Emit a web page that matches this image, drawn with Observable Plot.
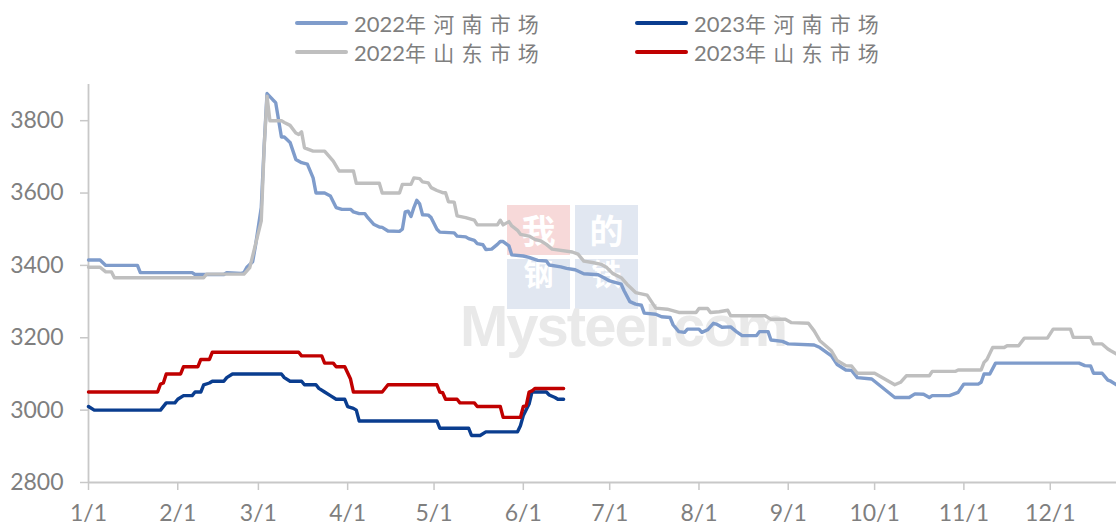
<!DOCTYPE html>
<html>
<head>
<meta charset="utf-8">
<script src="https://cdn.jsdelivr.net/npm/d3@7"></script>
<script src="https://cdn.jsdelivr.net/npm/@observablehq/plot@0.6"></script>
<style>
  html, body { margin: 0; padding: 0; background: #fff; }
  #wrap { position: relative; width: 1116px; height: 527px; overflow: hidden; font-family: Lato, "Noto Sans CJK SC", sans-serif; }
  #legend { position: relative; height: 70px; }
  .item { position: absolute; display: flex; align-items: center; height: 28px; font-size: 22px; color: #7f7f7f; white-space: nowrap; }
  .sw { width: 53px; height: 4px; border-radius: 2px; margin-right: 6px; }
  .cjk { letter-spacing: 7.2px; font-family: "Noto Sans CJK SC", sans-serif; font-size: 21px; }
  #chart { position: relative; z-index: 1; }
  #wm { position: absolute; left: 0; top: 0; z-index: 0; pointer-events: none; }
  .box { position: absolute; width: 63px; height: 50px; color: #fff; font-family: "Noto Sans CJK SC", sans-serif; font-size: 34px; font-weight: 700; line-height: 50px; text-align: center; }
  .box.low { font-size: 30px; line-height: 26px; }
  .mys { position: absolute; left: 460px; top: 301px; font-family: "Liberation Sans", sans-serif; font-weight: 700; font-size: 58px; line-height: 50px; color: #e9e9e9; letter-spacing: -2px; }
</style>
</head>
<body>
<div id="wrap">
  <div id="wm">
    <div class="box" style="left:507px;top:205px;background:#f7d9d9;">我</div>
    <div class="box" style="left:575px;top:205px;background:#e1e7f1;">的</div>
    <div class="box low" style="left:507px;top:259px;background:#e1e7f1;">钢</div>
    <div class="box low" style="left:575px;top:259px;background:#e1e7f1;">铁</div>
    <div class="mys">Mysteel.com</div>
  </div>
  <div id="legend"></div>
  <div id="chart"></div>
</div>
<script>
// ---- data ----
const seriesNames = ["2022年河南市场", "2023年河南市场", "2022年山东市场", "2023年山东市场"];
const seriesColors = ["#7f9ccb", "#0a3d8f", "#bfbfbf", "#c00000"];

const henan2022Dates = ["01-01","01-05","01-07","01-18","01-19","02-06","02-07","02-17","02-18","02-23","02-24","02-25","02-27","02-28","03-02","03-03","03-04","03-06","03-07","03-09","03-10","03-12","03-14","03-16","03-18","03-20","03-21","03-24","03-26","03-28","03-30","04-02","04-03","04-05","04-07","04-08","04-10","04-12","04-13","04-15","04-19","04-20","04-21","04-22","04-23","04-24","04-25","04-26","04-27","04-29","04-30","05-02","05-03","05-08","05-09","05-12","05-13","05-15","05-16","05-18","05-19","05-21","05-23","05-24","05-25","05-27","05-28","06-01","06-03","06-06","06-09","06-10","06-14","06-16","06-19","06-22","06-27","06-29","07-01","07-05","07-06","07-08","07-10","07-12","07-13","07-17","07-19","07-22","07-23","07-25","07-27","07-28","08-01","08-02","08-04","08-06","08-07","08-09","08-12","08-14","08-16","08-21","08-22","08-25","08-26","08-30","09-01","09-10","09-12","09-16","09-18","09-21","09-23","09-25","09-30","10-08","10-13","10-15","10-18","10-20","10-21","10-27","10-30","11-01","11-06","11-07","11-08","11-10","11-12","12-11","12-13","12-15","12-16","12-19","12-21","12-22","12-24"];
const henan2022Prices = [3415,3415,3400,3400,3380,3380,3375,3375,3380,3378,3380,3395,3410,3455,3560,3730,3875,3858,3850,3755,3755,3740,3693,3684,3680,3642,3600,3600,3592,3560,3555,3555,3548,3543,3543,3532,3514,3506,3505,3495,3494,3500,3548,3550,3535,3560,3580,3570,3540,3539,3532,3500,3492,3490,3481,3479,3474,3469,3460,3457,3444,3445,3458,3466,3466,3454,3429,3426,3422,3414,3412,3401,3396,3392,3388,3377,3374,3366,3357,3348,3330,3300,3293,3290,3268,3265,3258,3256,3236,3217,3215,3224,3224,3215,3222,3240,3238,3229,3230,3217,3206,3206,3217,3217,3194,3190,3183,3180,3173,3150,3126,3111,3110,3090,3086,3035,3035,3045,3044,3035,3040,3040,3049,3072,3072,3077,3100,3100,3130,3130,3123,3122,3102,3102,3083,3080,3070];

const shandong2022Dates = ["01-01","01-05","01-07","01-09","01-10","02-10","02-11","02-24","02-26","02-28","03-02","03-03","03-04","03-05","03-09","03-10","03-12","03-14","03-15","03-16","03-17","03-20","03-24","03-27","03-29","04-03","04-04","04-12","04-13","04-19","04-20","04-23","04-24","04-26","04-27","04-29","04-30","05-02","05-04","05-05","05-06","05-08","05-09","05-12","05-15","05-16","05-23","05-24","05-25","05-27","05-28","05-30","05-31","06-03","06-05","06-07","06-09","06-11","06-18","06-20","06-22","06-25","06-28","06-30","07-02","07-05","07-07","07-10","07-14","07-17","07-21","07-25","07-31","08-01","08-04","08-05","08-08","08-11","08-12","08-24","08-26","08-31","09-02","09-08","09-10","09-12","09-16","09-18","09-21","09-23","09-25","10-01","10-08","10-10","10-12","10-20","10-21","10-29","10-30","11-07","11-08","11-09","11-11","11-15","11-16","11-20","11-22","11-30","12-02","12-08","12-09","12-15","12-16","12-19","12-21","12-22","12-24"];
const shandong2022Prices = [3395,3395,3382,3382,3366,3366,3376,3376,3394,3458,3523,3725,3868,3800,3800,3795,3787,3766,3762,3769,3725,3716,3716,3688,3661,3661,3627,3627,3600,3600,3624,3624,3642,3640,3631,3628,3615,3607,3601,3601,3576,3575,3537,3532,3525,3512,3512,3525,3512,3521,3509,3497,3486,3481,3472,3468,3458,3445,3437,3431,3412,3408,3403,3394,3378,3366,3348,3325,3318,3282,3279,3270,3270,3281,3281,3270,3272,3276,3261,3261,3251,3251,3242,3240,3219,3192,3164,3137,3123,3122,3102,3102,3070,3077,3095,3095,3107,3107,3111,3111,3132,3140,3173,3173,3178,3178,3199,3199,3224,3224,3201,3201,3183,3183,3169,3164,3155];

const henan2023Dates = ["01-01","01-03","01-26","01-28","01-31","02-01","02-03","02-06","02-07","02-09","02-10","02-12","02-13","02-17","02-18","02-20","03-09","03-10","03-12","03-16","03-17","03-21","03-22","03-24","03-26","03-28","03-31","04-01","04-03","04-04","04-05","05-02","05-03","05-13","05-14","05-17","05-19","05-30","05-31","06-01","06-03","06-04","06-09","06-10","06-12","06-13","06-15"];
const henan2023Prices = [3010,3000,3000,3020,3020,3030,3040,3040,3050,3050,3070,3075,3080,3080,3090,3100,3100,3090,3080,3080,3070,3070,3060,3050,3040,3030,3030,3010,3005,3000,2970,2970,2950,2950,2930,2930,2940,2940,2957,2985,3017,3050,3050,3042,3035,3030,3030];

const shandong2023Dates = ["01-01","01-25","01-26","01-27","01-28","02-02","02-03","02-08","02-09","02-12","02-13","03-15","03-16","03-23","03-24","03-27","03-28","03-31","04-02","04-03","04-13","04-15","05-02","05-03","05-04","05-05","05-09","05-10","05-15","05-16","05-24","05-25","05-31","06-01","06-02","06-03","06-04","06-05","06-15"];
const shandong2023Prices = [3050,3050,3072,3075,3100,3100,3120,3120,3140,3140,3160,3160,3150,3150,3130,3130,3120,3120,3086,3050,3050,3070,3070,3050,3048,3030,3030,3020,3020,3010,3010,2980,2980,3010,3012,3050,3053,3060,3060];

const xTickLabels = ["1/1","2/1","3/1","4/1","5/1","6/1","7/1","8/1","9/1","10/1","11/1","12/1"];
const yTicks = [2800, 3000, 3200, 3400, 3600, 3800];
const yDomain = [2800, 3900];
const xEnd = "12-24";

// ---- build ----
const toDate = s => { const [m, d] = s.split("-").map(Number); return new Date(Date.UTC(2022, m - 1, d)); };
const build = (name, dates, prices) => dates.map((d, i) => ({series: name, date: toDate(d), price: prices[i]}));
const series = [
  build(seriesNames[0], henan2022Dates, henan2022Prices),
  build(seriesNames[1], henan2023Dates, henan2023Prices),
  build(seriesNames[2], shandong2022Dates, shandong2022Prices),
  build(seriesNames[3], shandong2023Dates, shandong2023Prices)
];
const xTicks = xTickLabels.map(l => { const [m, d] = l.split("/").map(Number); return new Date(Date.UTC(2022, m - 1, d)); });
const tickLabel = d => `${d.getUTCMonth() + 1}/${d.getUTCDate()}`;

const axisColor = "#c8c8c8";
const textColor = "#7f7f7f";

const plot = Plot.plot({
  width: 1116,
  height: 457,
  marginLeft: 88,
  marginRight: 0,
  marginTop: 14,
  marginBottom: 45,
  style: {background: "transparent", fontFamily: "Lato, 'Noto Sans CJK SC', sans-serif", fontSize: "23px", color: textColor},
  x: {type: "utc", domain: [toDate("01-01"), toDate(xEnd)]},
  y: {domain: yDomain},
  marks: [
    Plot.axisX({ticks: xTicks, tickFormat: tickLabel, tickSize: 8, tickPadding: 14, stroke: axisColor, strokeWidth: 1.5, fill: textColor, label: null}),
    Plot.axisY({ticks: yTicks, tickFormat: d => String(d), tickSize: 8, tickPadding: 17, stroke: axisColor, strokeWidth: 1.5, fill: textColor, label: null}),
    Plot.ruleY([yDomain[0]], {stroke: axisColor, strokeWidth: 1.8}),
    Plot.ruleX([toDate("01-01")], {stroke: axisColor, strokeWidth: 1.8}),
    ...series.map((data, i) => Plot.line(data, {x: "date", y: "price", stroke: seriesColors[i], strokeWidth: 3.4, strokeLinejoin: "round", strokeLinecap: "round"}))
  ]
});
document.getElementById("chart").appendChild(plot);

// ---- legend (row-major, 2 columns) ----
const legend = document.getElementById("legend");
const legendLeft = [295, 635];
const legendTop = [9, 38];
seriesNames.forEach((name, i) => {
  const item = document.createElement("div");
  item.className = "item";
  item.style.left = legendLeft[i % 2] + "px";
  item.style.top = legendTop[Math.floor(i / 2)] + "px";
  const sw = document.createElement("span");
  sw.className = "sw";
  sw.style.background = seriesColors[i];
  const num = document.createElement("span");
  num.textContent = name.slice(0, 4);
  const cjk = document.createElement("span");
  cjk.className = "cjk";
  cjk.textContent = name.slice(4);
  item.append(sw, num, cjk);
  legend.appendChild(item);
});
</script>
</body>
</html>
